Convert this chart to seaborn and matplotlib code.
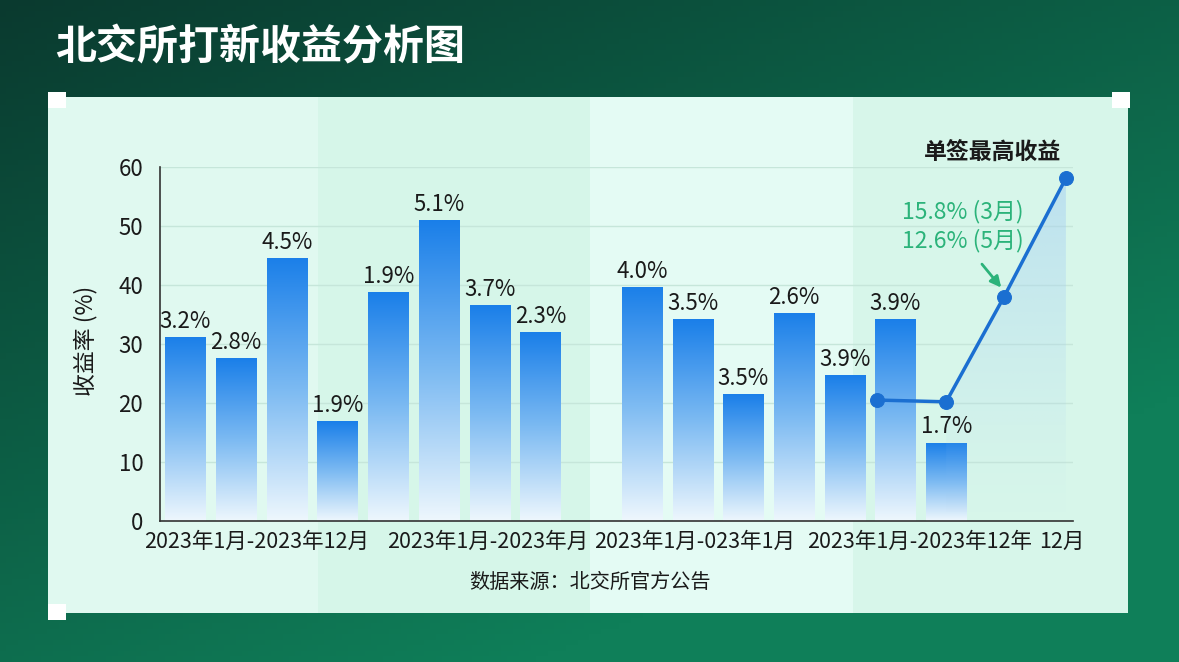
import matplotlib.pyplot as plt
import numpy as np
import pandas as pd
import seaborn as sns
from matplotlib.colors import LinearSegmentedColormap, to_rgb
from matplotlib.patches import Polygon, Rectangle

title = "北交所打新收益分析图"
y_label = "收益率 (%)"
source = "数据来源：北交所官方公告"
peak_note = "单签最高收益"
green_notes = ["15.8% (3月)", "12.6% (5月)"]

# 18 slots on the x axis, bars in 15 of them
slots = [f"s{i}" for i in range(18)]
bar_slots = [0, 1, 2, 3, 4, 5, 6, 7, 9, 10, 11, 12, 13, 14, 15]
bar_values = [31.2, 27.6, 44.6, 16.9, 38.8, 51.0, 36.6, 32.0,
              39.7, 34.2, 21.5, 35.3, 24.7, 34.2, 13.3]
bar_labels = ["3.2%", "2.8%", "4.5%", "1.9%", "1.9%", "5.1%", "3.7%", "2.3%",
              "4.0%", "3.5%", "3.5%", "2.6%", "3.9%", "3.9%", "1.7%"]

line_x = [13.64, 15.0, 16.14, 17.36]
line_y = [20.5, 20.2, 38.0, 58.1]

xtick_pos = [1.41, 5.95, 10.03, 14.48, 17.28]
xtick_labels = ["2023年1月-2023年12月", "2023年1月-2023年月", "2023年1月-023年1月",
                "2023年1月-2023年12年", "12月"]
yticks = [0, 10, 20, 30, 40, 50, 60]

W, H = 1179, 662
TXT = "#1a1a1a"
MED = "medium"


def fx(px):
    return px / W


def fy(py):
    return 1 - py / H


sns.set_theme(style="white")
plt.rcParams["font.family"] = ["Noto Sans CJK SC", "DejaVu Sans"]

fig = plt.figure(figsize=(W / 100, H / 100), dpi=100)

# dark green background
bg = fig.add_axes([0, 0, 1, 1], zorder=-10)
gx, gy = np.meshgrid(np.linspace(0, 1, 200), np.linspace(0, 1, 120))
t = np.clip(0.55 * gx + 0.75 * gy, 0, 1)[..., None]
c0, c1 = np.array(to_rgb("#0a3a2f")), np.array(to_rgb("#0f7f59"))
bg.imshow(c0 * (1 - t) + c1 * t, aspect="auto", extent=[0, 1, 0, 1])
bg.axis("off")

# light panel with vertical bands
bands = [(48, 318, "#e0f9f0"), (318, 590, "#d6f6e9"), (590, 853, "#e4fbf4"), (853, 1128, "#d7f6ea")]
for x0, x1, col in bands:
    fig.add_artist(Rectangle((fx(x0), fy(613)), fx(x1 - x0), (613 - 97) / H,
                             transform=fig.transFigure, facecolor=col, edgecolor="none", zorder=-5))
for cx, cy in [(48, 92), (1112, 92), (48, 604)]:
    fig.add_artist(Rectangle((fx(cx), fy(cy + 16)), fx(18), 16 / H,
                             transform=fig.transFigure, facecolor="white", edgecolor="none", zorder=-4))

fig.text(fx(55), fy(47), title, color="white", fontsize=29.5, fontweight="bold", va="center", ha="left")

ax = fig.add_axes([fx(160), fy(521), fx(913), 354 / H])
ax.set_facecolor("none")

df = pd.DataFrame({"slot": [slots[i] for i in bar_slots], "value": bar_values})
sns.barplot(data=df, x="slot", y="value", order=slots, width=0.79, ax=ax, zorder=2)

bar_cmap = LinearSegmentedColormap.from_list("bar", ["#eef7fd", "#7cbaf2", "#1a7fe9"])
grad = np.linspace(0, 1, 256).reshape(-1, 1)
patches = sorted(ax.patches, key=lambda p: p.get_x())
for p, lab in zip(patches, bar_labels):
    x0, w, h = p.get_x(), p.get_width(), p.get_height()
    im = ax.imshow(grad, cmap=bar_cmap, extent=[x0, x0 + w, 0, h], origin="lower",
                   aspect="auto", zorder=2)
    im.set_clip_path(p)
    p.set_facecolor("none")
    p.set_edgecolor("none")
    ax.annotate(lab, (x0 + w / 2, h), xytext=(0, 3), textcoords="offset points",
                ha="center", va="bottom", fontsize=16, fontweight=MED, color=TXT, zorder=6)

# shaded area under the rising line
poly = Polygon([(line_x[1], line_y[1]), (line_x[2], line_y[2]), (line_x[3], line_y[3]),
                (line_x[3], 0), (line_x[1], 0)], closed=True, facecolor="none", edgecolor="none")
ax.add_patch(poly)
fill = np.zeros((256, 1, 4))
fill[..., :3] = to_rgb("#a3cdf4")
fill[:, 0, 3] = np.linspace(0.0, 0.6, 256) ** 1.3
fim = ax.imshow(fill, extent=[line_x[1], line_x[3], 0, max(line_y)], origin="lower",
                aspect="auto", zorder=3)
fim.set_clip_path(poly)

sns.lineplot(x=line_x, y=line_y, ax=ax, color="#1b6fd1", lw=2.5, marker="o", markersize=10,
             markeredgecolor="#1b6fd1", zorder=5)

ax.text(15.92, 62.5, peak_note, ha="center", va="center", fontsize=16.5, fontweight="bold",
        color=TXT, clip_on=False)
ax.text(15.32, 52.4, green_notes[0], ha="center", va="center", fontsize=16.5, fontweight=MED,
        color="#2bb37a")
ax.text(15.32, 47.5, green_notes[1], ha="center", va="center", fontsize=16.5, fontweight=MED,
        color="#2bb37a")
ax.annotate("", xy=(16.12, 39.2), xytext=(15.67, 43.9),
            arrowprops=dict(arrowstyle="-|>", color="#2bb37a", lw=2, mutation_scale=16))

ax.set_xlim(-0.5, 17.5)
ax.set_ylim(0, 60)
ax.set_yticks(yticks)
ax.set_yticklabels([str(v) for v in yticks], fontsize=16, fontweight=MED, color=TXT)
ax.set_xticks(np.arange(-0.5, 18, 1))
ax.set_xticklabels([])
ax.set_xticks(xtick_pos, minor=True)
ax.set_xticklabels(xtick_labels, minor=True, fontsize=15.5, fontweight=MED, color=TXT)
ax.tick_params(axis="x", which="major", length=6, width=1.2, color="#444444", direction="out")
ax.tick_params(axis="x", which="minor", length=0, pad=7)
ax.tick_params(axis="y", length=0, pad=12)
ax.set_xlabel("")
ax.set_ylabel(y_label, fontsize=16.5, fontweight=MED, color=TXT)
ax.yaxis.set_label_coords(-0.069, 0.51)

ax.yaxis.grid(True, color="#c6e6da", lw=1)
ax.set_axisbelow(True)
sns.despine(ax=ax)
for s in ["left", "bottom"]:
    ax.spines[s].set_color("#333333")
    ax.spines[s].set_linewidth(1.2)

fig.text(fx(590), fy(582), source, ha="center", va="center", fontsize=14.5, fontweight=MED,
         color=TXT)

fig.savefig("out.png", dpi=100)
